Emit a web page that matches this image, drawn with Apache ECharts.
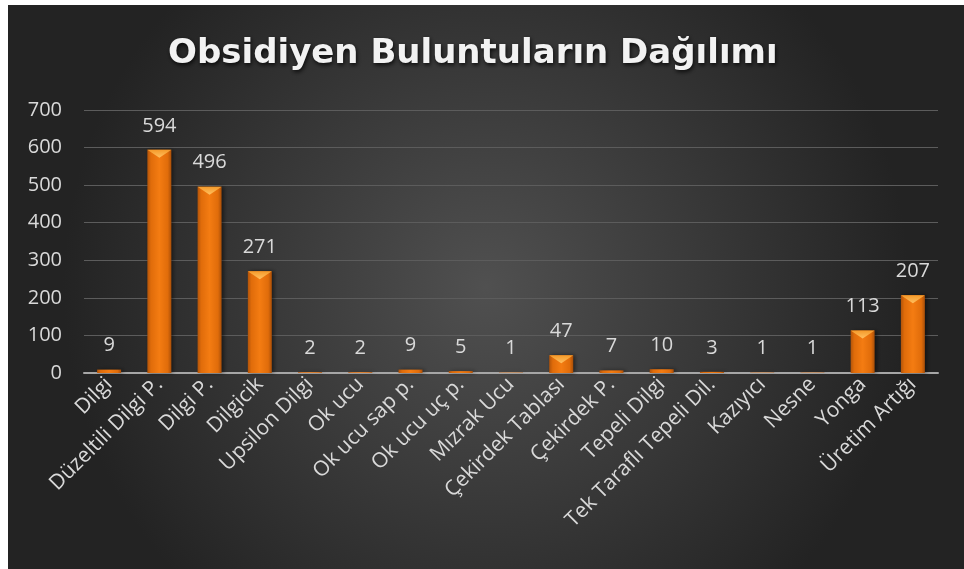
<!DOCTYPE html>
<html>
<head>
<meta charset="utf-8">
<script src="https://cdn.jsdelivr.net/npm/echarts@6/dist/echarts.min.js"></script>
<style>
  html, body { margin: 0; padding: 0; background: #fff; }
  #chart { position: absolute; left: 8px; top: 5px; width: 956px; height: 564px; }
</style>
</head>
<body>
<div id="chart"></div>
<script>
var categories = ['Dilgi', 'Düzeltili Dilgi P.', 'Dilgi P.', 'Dilgicik', 'Upsilon Dilgi', 'Ok ucu',
  'Ok ucu sap p.', 'Ok ucu uç p.', 'Mızrak Ucu', 'Çekirdek Tablası', 'Çekirdek P.', 'Tepeli Dilgi',
  'Tek Taraflı Tepeli Dil.', 'Kazıyıcı', 'Nesne', 'Yonga', 'Üretim Artığı'];
var counts = [9, 594, 496, 271, 2, 2, 9, 5, 1, 47, 7, 10, 3, 1, 1, 113, 207];
var yTicks = [0, 100, 200, 300, 400, 500, 600, 700];

var chart = echarts.init(document.getElementById('chart'));

var textColor = '#d9d9d9';
var font = '"Open Sans", sans-serif';

// bevel on top of each bar, only where the bar is tall enough
var bevel = counts.map(function (v) {
  return { value: v, symbolSize: v >= 30 ? [24, 8] : [0, 0] };
});

var option = {
  backgroundColor: {
    type: 'radial', x: 0.5, y: 0.5, r: 0.75,
    colorStops: [
      { offset: 0, color: '#505050' },
      { offset: 1, color: '#232323' }
    ]
  },
  title: {
    text: 'Obsidiyen Buluntuların Dağılımı',
    left: 155,
    top: 27,
    textStyle: {
      color: '#f2f2f2',
      fontFamily: '"DejaVu Sans", sans-serif',
      fontSize: 34,
      fontWeight: 'bold',
      textShadowColor: 'rgba(0,0,0,0.8)',
      textShadowBlur: 4,
      textShadowOffsetX: 1,
      textShadowOffsetY: 2
    }
  },
  grid: {
    left: 76,
    right: 26,
    top: 105,
    bottom: 196
  },
  xAxis: {
    type: 'category',
    data: categories,
    axisTick: { show: false },
    axisLine: { lineStyle: { color: '#a6a6a6', width: 2 } },
    axisLabel: {
      color: textColor,
      fontFamily: font,
      fontSize: 21,
      rotate: 45,
      interval: 0,
      margin: 8
    }
  },
  yAxis: {
    type: 'value',
    min: yTicks[0],
    max: yTicks[yTicks.length - 1],
    interval: 100,
    axisLine: { show: false },
    axisTick: { show: false },
    splitLine: { lineStyle: { color: '#5c5c5c', width: 1 } },
    axisLabel: {
      color: textColor,
      fontFamily: font,
      fontSize: 20,
      margin: 22
    }
  },
  series: [
    {
      type: 'bar',
      data: counts,
      barWidth: 24,
      z: 2,
      itemStyle: {
        color: {
          type: 'linear', x: 0, y: 0, x2: 1, y2: 0,
          colorStops: [
            { offset: 0, color: '#b2540a' },
            { offset: 0.15, color: '#e06c0a' },
            { offset: 0.5, color: '#f47c12' },
            { offset: 0.85, color: '#e06c0a' },
            { offset: 1, color: '#a94f09' }
          ]
        },
        shadowColor: 'rgba(0,0,0,0.5)',
        shadowBlur: 4,
        shadowOffsetX: 2,
        shadowOffsetY: 0
      },
      label: {
        show: true,
        position: 'top',
        distance: 14,
        color: textColor,
        fontFamily: font,
        fontSize: 20
      }
    },
    {
      type: 'pictorialBar',
      data: bevel,
      symbol: 'triangle',
      symbolRotate: 180,
      symbolPosition: 'end',
      symbolOffset: [0, 0],
      z: 3,
      silent: true,
      itemStyle: {
        color: {
          type: 'linear', x: 0, y: 0, x2: 0, y2: 1,
          colorStops: [
            { offset: 0, color: '#ffc060' },
            { offset: 1, color: '#f59a2a' }
          ]
        }
      }
    }
  ]
};

chart.setOption(option);
</script>
</body>
</html>
